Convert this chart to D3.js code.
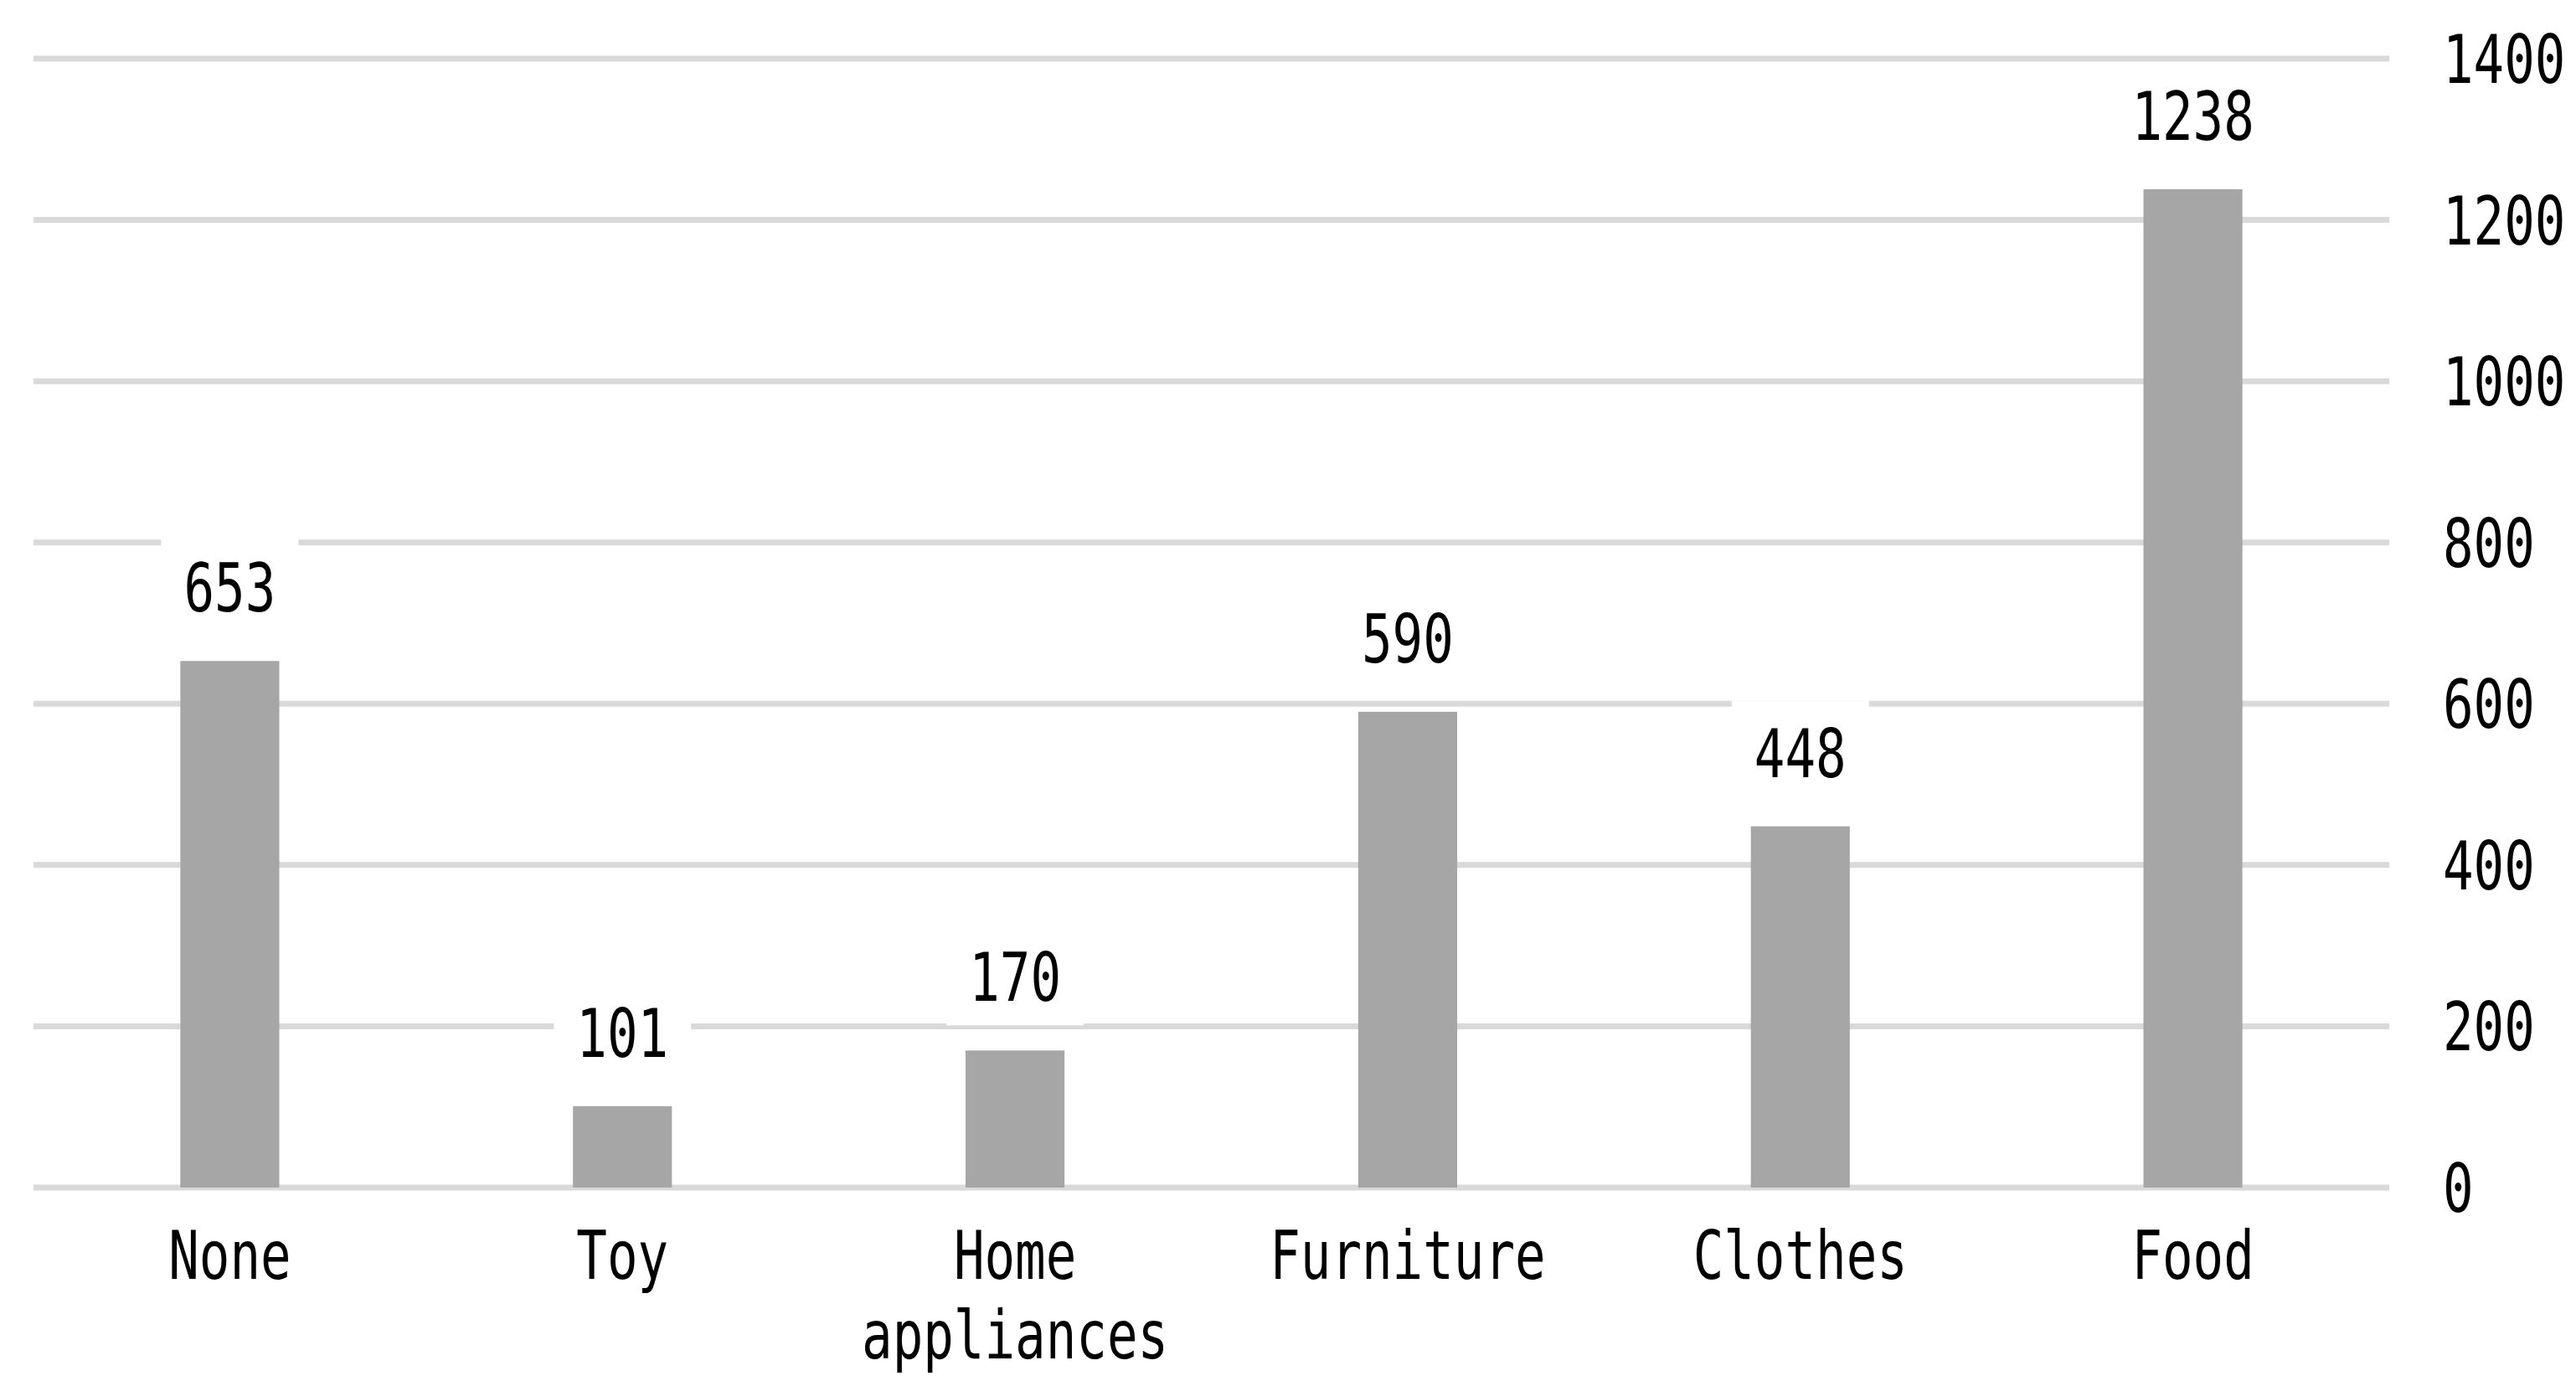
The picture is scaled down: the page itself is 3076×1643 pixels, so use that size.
<!DOCTYPE html>
<html>
<head>
<meta charset="utf-8">
<script src="https://cdn.jsdelivr.net/npm/d3@7"></script>
<style>
  body { margin: 0; background: #fff; }
  text { font-family: "DejaVu Sans Mono", monospace; fill: #000; }
</style>
</head>
<body>
<script>
// data
let categories = ["None", "Toy", "Home\nappliances", "Furniture", "Clothes", "Food"];
let values = [653, 101, 170, 590, 448, 1238];
let yTicks = [0, 200, 400, 600, 800, 1000, 1200, 1400];

let W = 3076, H = 1643;
let plotLeft = 40, plotRight = 2853, plotTop = 70, plotBottom = 1418;
let sx = 0.76; // narrow the glyphs a bit

let viz = d3.select("body")
  .append("svg")
    .attr("width", W)
    .attr("height", H);

let x = d3.scaleBand()
  .domain(categories)
  .range([plotLeft, plotRight])
  .paddingInner(0.748)
  .paddingOuter(0.374);

let y = d3.scaleLinear()
  .domain([0, 1400])
  .range([plotBottom, plotTop]);

// gridlines
viz.selectAll(".grid").data(yTicks)
  .enter()
  .append("line")
    .attr("class", "grid")
    .attr("x1", plotLeft)
    .attr("x2", plotRight)
    .attr("y1", d => y(d))
    .attr("y2", d => y(d))
    .attr("stroke", "#d9d9d9")
    .attr("stroke-width", 7);

// y tick labels on the right
viz.selectAll(".ytick").data(yTicks)
  .enter()
  .append("text")
    .attr("class", "ytick")
    .attr("transform", d => "translate(2917," + (y(d) + 29) + ") scale(" + sx + ",1)")
    .attr("font-size", 80)
    .text(d => d);

// bars
let data = categories.map((c, i) => ({cat: c, val: values[i]}));

viz.selectAll(".bar").data(data)
  .enter()
  .append("rect")
    .attr("class", "bar")
    .attr("x", d => x(d.cat))
    .attr("y", d => y(d.val))
    .attr("width", x.bandwidth())
    .attr("height", d => y(0) - y(d.val))
    .attr("fill", "#a6a6a6");

// value labels with white boxes
let labels = viz.selectAll(".lab").data(data)
  .enter()
  .append("g")
    .attr("class", "lab")
    .attr("transform", d => "translate(" + (x(d.cat) + x.bandwidth() / 2) + "," + (y(d.val) - 59) + ")");

labels.append("rect")
  .attr("x", -82)
  .attr("y", -91)
  .attr("width", 164)
  .attr("height", 120)
  .attr("fill", "#fff");

labels.append("text")
  .attr("transform", "scale(" + sx + ",1)")
  .attr("text-anchor", "middle")
  .attr("font-size", 80)
  .text(d => d.val);

// category labels
let cats = viz.selectAll(".cat").data(categories)
  .enter()
  .append("g")
    .attr("class", "cat")
    .attr("transform", d => "translate(" + (x(d) + x.bandwidth() / 2) + ",1527)");

cats.each(function(d){
  let lines = d.split("\n");
  for (let j = 0; j < lines.length; j++){
    d3.select(this).append("text")
      .attr("transform", "translate(0," + (j * 95) + ") scale(" + sx + ",1)")
      .attr("text-anchor", "middle")
      .attr("font-size", 80)
      .text(lines[j]);
  }
});
</script>
</body>
</html>
